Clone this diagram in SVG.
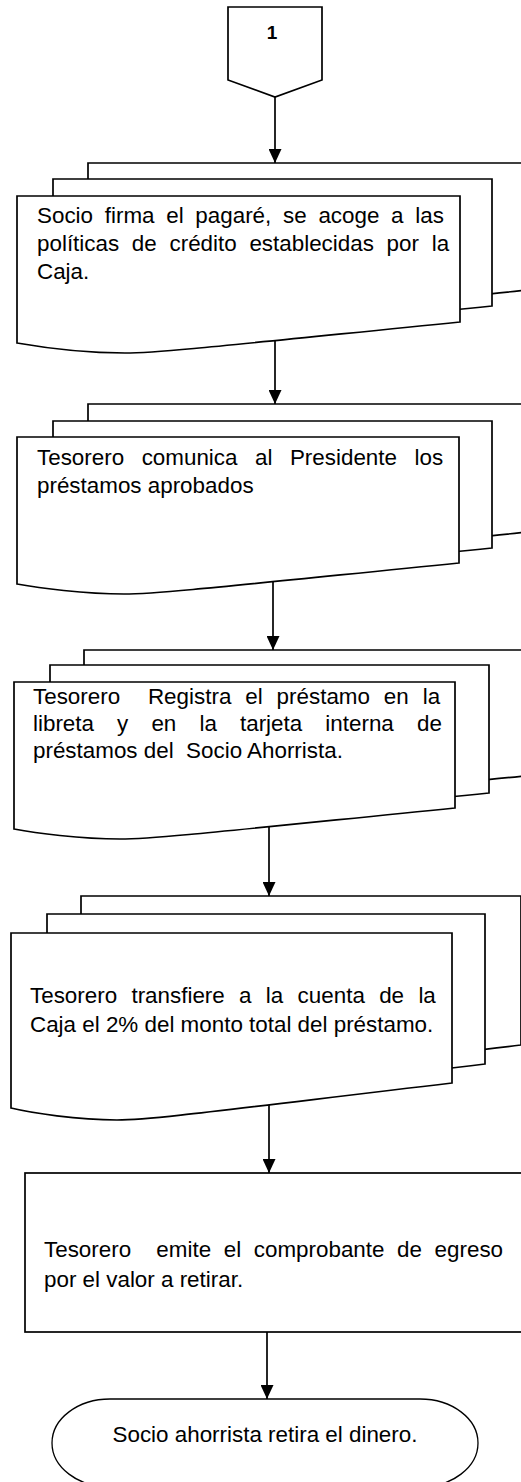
<svg xmlns="http://www.w3.org/2000/svg" width="521" height="1482" viewBox="0 0 521 1482">
<style>
.s{fill:#fff;stroke:#000;stroke-width:1.7;stroke-linejoin:miter}
.t{font-family:"Liberation Sans",Arial,sans-serif;font-size:22.4px;fill:#000;white-space:pre}
.c{fill:none;stroke:#000;stroke-width:1.7;marker-end:url(#ah)}
</style>
<defs>
<marker id="ah" markerUnits="userSpaceOnUse" viewBox="0 0 14 13" refX="14" refY="6.5" markerWidth="14" markerHeight="13" orient="auto">
<path d="M0,0 L14,6.5 L0,13 Z" fill="#000"/>
</marker>
</defs>
<rect width="521" height="1482" fill="#fff"/>
<g id="connectors">
<path class="c" d="M275,97 V163"/>
<path class="c" d="M275,330 V404"/>
<path class="c" d="M273,570 V650"/>
<path class="c" d="M269,815 V896"/>
<path class="c" d="M269,1090 V1173"/>
<path class="c" d="M267,1332 V1399"/>
</g>
<g id="n0">
<path class="s" d="M228,7 H322 V80 L275,97 L228,80 Z"/>
<text x="272" y="39" text-anchor="middle" style="font-family:'Liberation Sans',Arial,sans-serif;font-size:19px;font-weight:bold">1</text>
</g>
<g id="n1">
<path class="s" d="M88,163 h440 v127 c-220,22 -300,31 -335,31 c-40,0 -85,-6 -105,-10 z"/>
<path class="s" d="M53,179 h439 v127 c-220,22 -300,31 -335,31 c-40,0 -85,-6 -104,-10 z"/>
<path class="s" d="M17,196 h443 v126 c-220,22 -300,31 -335,31 c-40,0 -85,-6 -108,-10 z"/>
<text class="t" x="37" y="223" style="word-spacing:5.5px">Socio firma el pagaré, se acoge a las</text>
<text class="t" x="37" y="251" style="word-spacing:6.5px">políticas de crédito establecidas por la</text>
<text class="t" x="37" y="279">Caja.</text>
</g>
<g id="n2">
<path class="s" d="M88,404 h440 v128 c-220,22 -300,31 -335,31 c-40,0 -85,-6 -105,-10 z"/>
<path class="s" d="M53,421 h439 v127 c-220,22 -300,31 -335,31 c-40,0 -85,-6 -104,-10 z"/>
<path class="s" d="M17,437 h442 v126 c-220,22 -300,31 -335,31 c-40,0 -85,-6 -107,-10 z"/>
<text class="t" x="37" y="465" style="word-spacing:11.3px">Tesorero comunica al Presidente los</text>
<text class="t" x="37" y="493">préstamos aprobados</text>
</g>
<g id="n3">
<path class="s" d="M84,650 h440 v126 c-220,22 -300,31 -335,31 c-40,0 -85,-6 -105,-10 z"/>
<path class="s" d="M50,665 h439 v128 c-220,22 -300,31 -335,31 c-40,0 -85,-6 -104,-10 z"/>
<path class="s" d="M14,682 h441 v126 c-220,22 -300,31 -335,31 c-40,0 -85,-6 -106,-10 z"/>
<text class="t" x="33" y="704" xml:space="preserve" style="word-spacing:7.7px">Tesorero  Registra el préstamo en la</text>
<text class="t" x="33" y="731" style="word-spacing:16.9px">libreta y en la tarjeta interna de</text>
<text class="t" x="33" y="758" xml:space="preserve">préstamos del  Socio Ahorrista.</text>
</g>
<g id="n4">
<path class="s" d="M81,896 h440 v149 c-220,26 -300,37 -335,37 c-40,0 -85,-7 -105,-12 z"/>
<path class="s" d="M47,914 h438 v150 c-220,26 -300,37 -335,37 c-40,0 -85,-7 -103,-12 z"/>
<path class="s" d="M11,933 h441 v150 c-220,26 -300,37 -335,37 c-40,0 -85,-7 -106,-12 z"/>
<text class="t" x="30" y="1003" style="word-spacing:8.1px">Tesorero transfiere a la cuenta de la</text>
<text class="t" x="30" y="1032">Caja el 2% del monto total del préstamo.</text>
</g>
<g id="n5">
<rect class="s" x="25" y="1173" width="510" height="159"/>
<text class="t" x="44" y="1257" xml:space="preserve" style="word-spacing:6.4px">Tesorero  emite el comprobante de egreso</text>
<text class="t" x="44" y="1287">por el valor a retirar.</text>
</g>
<g id="n6">
<path class="s" style="stroke-width:1.3" d="M110,1399 H420 A58,44 0 0 1 420,1487 H110 A58,44 0 0 1 110,1399 Z"/>
<text class="t" x="265" y="1442" text-anchor="middle">Socio ahorrista retira el dinero.</text>
</g>
</svg>
